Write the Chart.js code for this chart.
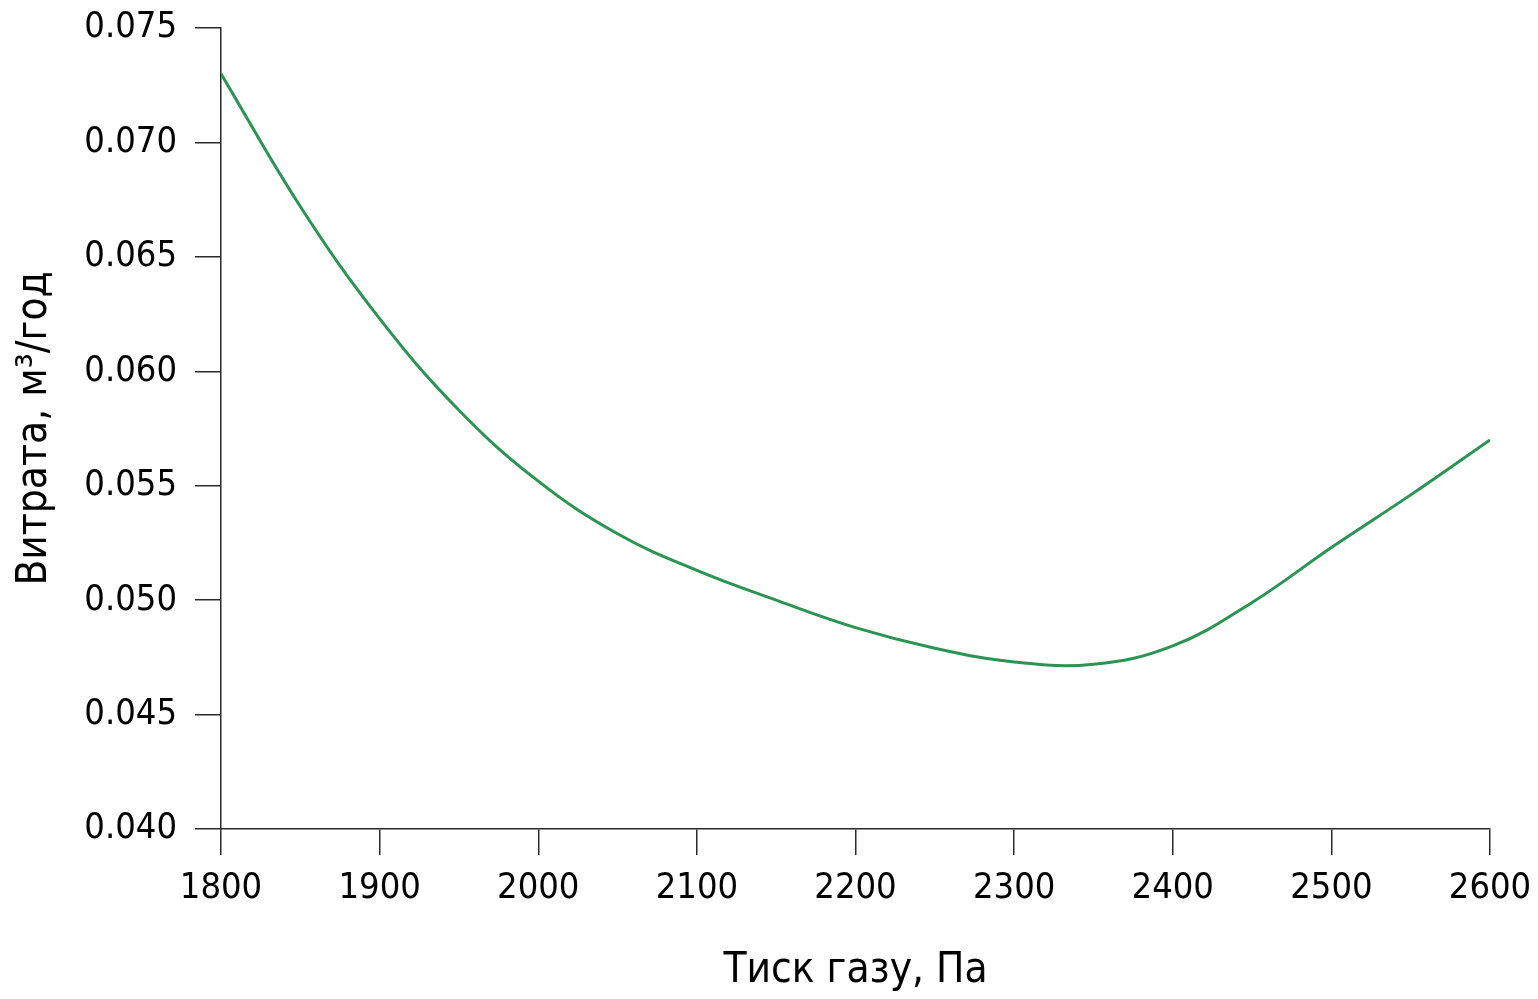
<!DOCTYPE html>
<html lang="uk">
<head>
<meta charset="utf-8">
<title>Витрата газу</title>
<script src="https://cdn.jsdelivr.net/npm/chart.js@4.4.1/dist/chart.umd.min.js"></script>
<style>
    html, body { margin: 0; padding: 0; background: #fff; }
    #wrap { width: 1538px; height: 999px; position: relative; }
</style>
</head>
<body>
<div id="wrap"><canvas id="flowChart"></canvas></div>
<script>
/* ── Data ── */
var pressure = [1800, 1850, 1900, 1950, 2000, 2050, 2100, 2150, 2200,
                2250, 2300, 2350, 2400, 2450, 2500, 2550, 2600];
var flowRate = [0.0730, 0.0672, 0.0623, 0.0583, 0.0552, 0.0529, 0.0513, 0.0500, 0.0488,
                0.0479, 0.0473, 0.0472, 0.0480, 0.0499, 0.0523, 0.0546, 0.0570];

var xTicks = [1800, 1900, 2000, 2100, 2200, 2300, 2400, 2500, 2600];
var yTicks = [0.040, 0.045, 0.050, 0.055, 0.060, 0.065, 0.070, 0.075];

var xTitle = 'Тиск газу, Па';
var yTitle = 'Витрата, м³/год';

var fontFamily = '"DejaVu Sans Condensed", "Liberation Sans Narrow", "Noto Sans", sans-serif';
var axisColor = '#2a2a2a';

var points = pressure.map(function (p, i) { return { x: p, y: flowRate[i] }; });

var ctx = document.getElementById('flowChart').getContext('2d');
new Chart(ctx, {
    type: 'line',
    data: {
        datasets: [{
            data: points,
            borderColor: '#2b9453',
            borderWidth: 3,
            pointRadius: 0,
            fill: false,
            tension: 0.4
        }]
    },
    options: {
        responsive: true,
        maintainAspectRatio: false,
        animation: false,
        layout: { padding: { top: 28, right: 48, bottom: 0, left: 0 } },
        plugins: { legend: { display: false }, tooltip: { enabled: false } },
        scales: {
            x: {
                type: 'linear',
                min: 1800,
                max: 2600,
                afterBuildTicks: function (axis) {
                    axis.ticks = xTicks.map(function (v) { return { value: v }; });
                },
                // pin the axis box so the plot edge sits where the reference has it
                afterFit: function (axis) {
                    axis.height = 170;
                    axis.paddingLeft = 0;
                    axis.paddingRight = 0;
                },
                border: { display: true, color: axisColor, width: 1.5 },
                grid: { drawOnChartArea: false, drawTicks: true, tickLength: 26, tickColor: axisColor, lineWidth: 1.5 },
                ticks: {
                    padding: 12,
                    color: '#000',
                    maxRotation: 0,
                    font: { family: fontFamily, size: 36 },
                    callback: function (v) { return String(v); }
                },
                title: {
                    display: true,
                    text: xTitle,
                    color: '#000',
                    font: { family: fontFamily, size: 42 },
                    padding: { top: 0, bottom: 3 }
                }
            },
            y: {
                type: 'linear',
                min: 0.040,
                max: 0.075,
                afterBuildTicks: function (axis) {
                    axis.ticks = yTicks.map(function (v) { return { value: v }; });
                },
                afterFit: function (axis) {
                    axis.width = 221;
                    axis.paddingTop = 0;
                    axis.paddingBottom = 0;
                },
                border: { display: true, color: axisColor, width: 1.5 },
                grid: { drawOnChartArea: false, drawTicks: true, tickLength: 26, tickColor: axisColor, lineWidth: 1.5 },
                ticks: {
                    padding: 18,
                    color: '#000',
                    font: { family: fontFamily, size: 36 },
                    callback: function (v) { return Number(v).toFixed(3); }
                },
                title: {
                    display: true,
                    text: yTitle,
                    color: '#000',
                    font: { family: fontFamily, size: 42 },
                    padding: { top: 10, bottom: 0 }
                }
            }
        }
    }
});
</script>
</body>
</html>
